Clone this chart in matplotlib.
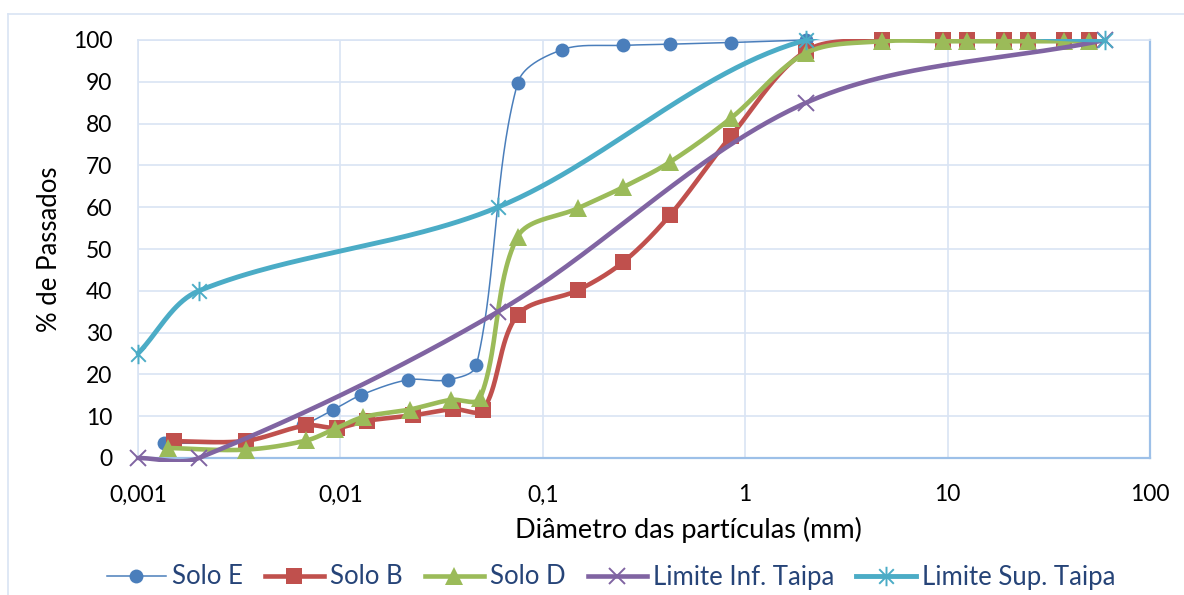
import numpy as np
import matplotlib
matplotlib.use("Agg")
import matplotlib.pyplot as plt
from matplotlib.path import Path
from matplotlib.lines import Line2D
from matplotlib.patches import Rectangle

# Curvas granulométricas (diâmetro em mm, % passados)
soloE_d = [0.00135, 0.0034, 0.0065, 0.0092, 0.0127, 0.0216, 0.034, 0.047,
           0.075, 0.125, 0.25, 0.425, 0.85, 2.0]
soloE_p = [3.5, 4.0, 7.9, 11.5, 15.1, 18.7, 18.7, 22.2,
           89.6, 97.7, 98.7, 99.0, 99.4, 100.0]

soloB_d = [0.0015, 0.0034, 0.0068, 0.0096, 0.0135, 0.0229, 0.036, 0.0507,
           0.075, 0.15, 0.25, 0.425, 0.85, 2.0, 4.75, 9.5, 12.5, 19.0, 25.0, 37.5, 50.0]
soloB_p = [4.0, 4.1, 7.8, 7.2, 8.9, 10.2, 11.7, 11.5,
           34.2, 40.2, 46.9, 58.1, 77.0, 97.4, 100, 100, 100, 100, 100, 100, 100]

soloD_d = [0.0014, 0.0034, 0.0068, 0.0094, 0.013, 0.022, 0.035, 0.049,
           0.075, 0.15, 0.25, 0.425, 0.85, 2.0, 4.75, 9.5, 12.5, 19.0, 25.0, 37.5, 50.0]
soloD_p = [2.4, 2.0, 4.2, 7.0, 9.8, 11.6, 13.9, 14.3,
           52.9, 59.8, 64.8, 70.8, 81.3, 96.9, 99.7, 99.7, 99.7, 99.7, 99.7, 99.7, 99.7]

lim_d = [0.001, 0.002, 0.06, 2.0, 60.0]
lim_inf = [0, 0, 35, 85, 100]
lim_sup = [25, 40, 60, 100, 100]

xticks = [0.001, 0.01, 0.1, 1, 10, 100]
xticklabels = ["0,001", "0,01", "0,1", "1", "10", "100"]

# pixels per decade / per percent, used to weigh the spline tangents
PX_DEC = 202.4
PX_PCT = 4.18


def smooth(xs, ys, n=60):
    '''
    Bezier smoothing in log-x space; tangents are Catmull-Rom style,
    weighted by the lengths of the neighbouring segments.
    '''
    pts = np.column_stack([np.log10(xs), ys]).astype(float)
    P = np.vstack([pts[0], pts, pts[-1]])
    scale = np.array([PX_DEC, PX_PCT])

    def dist(a, b):
        return np.hypot(*((b - a) * scale))

    t = np.linspace(0, 1, n)[:, None]
    out = []
    for i in range(1, len(P) - 2):
        p0, p1, p2, p3 = P[i - 1], P[i], P[i + 1], P[i + 2]
        d01, d12, d23 = dist(p0, p1), dist(p1, p2), dist(p2, p3)
        k1 = d12 / (3 * (d01 + d12)) if d01 + d12 > 0 else 0
        k2 = d12 / (3 * (d12 + d23)) if d12 + d23 > 0 else 0
        c1 = p1 + (p2 - p0) * k1
        c2 = p2 - (p3 - p1) * k2
        seg = (1 - t) ** 3 * p1 + 3 * (1 - t) ** 2 * t * c1 + 3 * (1 - t) * t ** 2 * c2 + t ** 3 * p2
        out.append(seg if i == 1 else seg[1:])
    curve = np.vstack(out)
    return 10 ** curve[:, 0], curve[:, 1]


# asterisk marker: x plus vertical bar
star = Path([(0, -1), (0, 1), (-0.75, -0.75), (0.75, 0.75), (-0.75, 0.75), (0.75, -0.75)],
            [Path.MOVETO, Path.LINETO, Path.MOVETO, Path.LINETO, Path.MOVETO, Path.LINETO])

plt.rcParams['font.family'] = ['Lato', 'DejaVu Sans']
fs = 16.5
fs_lab = 18.5

fig = plt.figure(figsize=(11.84, 5.95), dpi=100)
ax = fig.add_axes([138 / 1184, 1 - 458 / 595, (1150 - 138) / 1184, (458 - 40) / 595])

# lines are clipped to the plot area with a small margin
clip = Rectangle((-0.004, -0.01), 1.008, 1.012, transform=ax.transAxes,
                 facecolor='none', edgecolor='none')
ax.add_patch(clip)

series = [
    (soloE_d, soloE_p, "Solo E", "#4A7EBB", 1.1, "o", 10, None),
    (soloB_d, soloB_p, "Solo B", "#C0504D", 3.3, "s", 11.5, None),
    (soloD_d, soloD_p, "Solo D", "#9BBB59", 3.3, "^", 13.5, None),
    (lim_d, lim_inf, "Limite Inf. Taipa", "#8064A2", 3.3, "x", 12, 1.4),
    (lim_d, lim_sup, "Limite Sup. Taipa", "#4BACC6", 3.5, star, 14, 1.4),
]

handles = []
for k, (d, p, name, color, lw, mk, ms, mew) in enumerate(series):
    sx, sy = smooth(d, p)
    line, = ax.plot(sx, sy, color=color, lw=lw, zorder=3 + 2 * k,
                    solid_capstyle='round')
    line.set_clip_path(clip)
    kw = dict(marker=mk, markersize=ms)
    if mew:
        kw.update(markeredgewidth=mew, markerfacecolor='none')
    else:
        kw.update(markeredgewidth=0)
    ax.plot(d, p, color=color, linestyle='none', clip_on=False, zorder=4 + 2 * k, **kw)
    handles.append(Line2D([], [], color=color, lw=lw, label=name, **kw))

ax.set_xscale('log')
ax.set_xlim(0.001, 100)
ax.set_ylim(0, 100)
ax.set_xticks(xticks)
ax.set_xticklabels(xticklabels)
ax.xaxis.set_minor_locator(matplotlib.ticker.NullLocator())
ax.set_yticks(range(0, 101, 10))
ax.tick_params(axis='both', length=0, labelsize=fs, colors='black')
ax.tick_params(axis='y', pad=18.5)
ax.tick_params(axis='x', pad=19)

ax.grid(True, which='major', color='#D9E4F4', lw=1.2, zorder=0)
ax.set_axisbelow(True)
for side in ['left', 'top']:
    ax.spines[side].set_color('#D9E4F4')
    ax.spines[side].set_linewidth(1.2)
for side in ['right', 'bottom']:
    ax.spines[side].set_color('#9DC0E8')
    ax.spines[side].set_linewidth(1.6)

xl = ax.set_xlabel("Diâmetro das partículas (mm)", fontsize=19.5)
xl.set_verticalalignment('center')
ax.xaxis.set_label_coords((688 - 138) / 1012, (458 - 530) / 418)
ax.set_ylabel("% de Passados", fontsize=fs_lab, labelpad=8)

leg = fig.legend(handles=handles, loc='center', bbox_to_anchor=(611 / 1184, 1 - 577 / 595),
                 ncol=5, frameon=False, fontsize=fs_lab, handlelength=2.3,
                 handletextpad=0.25, columnspacing=0.85, borderaxespad=0)
for txt in leg.get_texts():
    txt.set_color('#264478')

# outer chart frame
fig.add_artist(Line2D([8 / 1184, 8 / 1184], [0, 1 - 14 / 595], transform=fig.transFigure,
                      color='#D9E4F4', lw=1.2))
fig.add_artist(Line2D([8 / 1184, 1], [1 - 14 / 595, 1 - 14 / 595], transform=fig.transFigure,
                      color='#D9E4F4', lw=1.2))

plt.savefig('out.png', dpi=100)
